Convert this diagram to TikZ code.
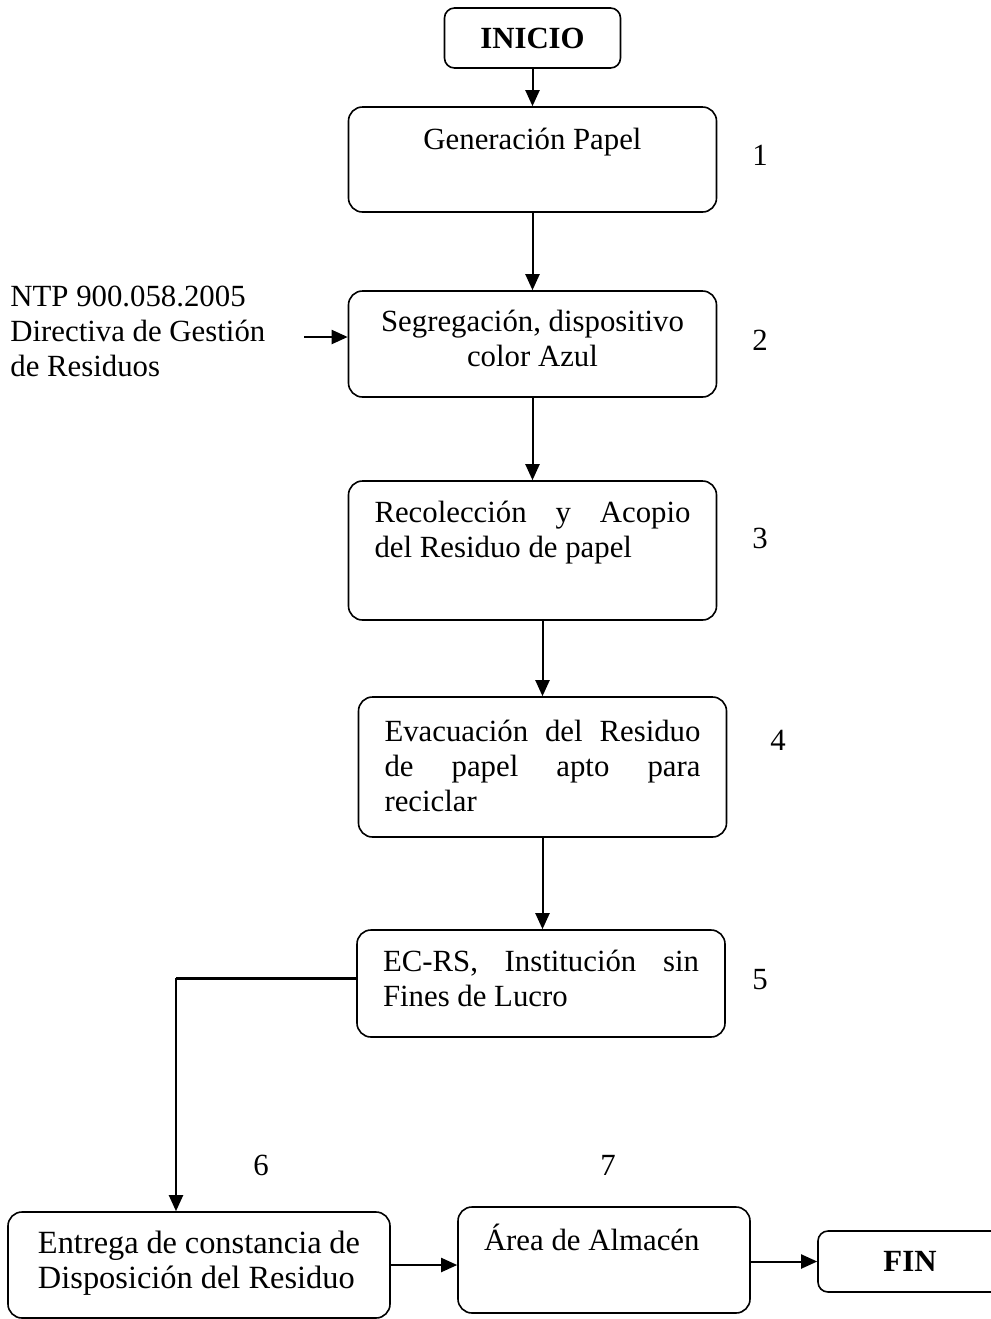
\documentclass[tikz,border=0pt]{standalone}
\usepackage{fontspec}
\setmainfont{Liberation Serif}
\usetikzlibrary{arrows.meta}

\begin{document}
\begin{tikzpicture}[x=0.5pt, y=-0.5pt,
    every node/.style={font=\fontsize{15.4pt}{17.5pt}\selectfont},
    paso/.style={draw, line width=0.8pt, rounded corners=7pt, inner xsep=13pt, inner ysep=0pt, text width=158pt},
    limite/.style={draw, line width=0.8pt, rounded corners=5pt, inner sep=0pt, font=\fontsize{15.4pt}{17.5pt}\selectfont\bfseries},
    flecha/.style={line width=1pt, -{Triangle[length=8pt, width=7pt]}},
    numero/.style={inner sep=0pt}]
    \useasboundingbox (0,0) rectangle (991,1319);
    \fill[white] (0,0) rectangle (991,1319);

    % Inicio
    \node[limite, minimum width=88pt, minimum height=30pt] (inicio) at (532.5,38) {INICIO};

    % Pasos 1 a 5
    \node[paso, align=flush center, text height=21pt, text depth=31.5pt] (gen) at (532.5,159.5) {Generación Papel};
    \node[paso, align=flush center, text height=20pt, text depth=33pt] (seg) at (532.5,344) {Segregación, dispositivo\\color Azul};
    \node[paso, align=justify, text height=20.5pt, text depth=49pt] (rec) at (532.5,550.5) {Recolección y Acopio\linebreak del Residuo de papel};
    \node[paso, align=justify, text height=22pt, text depth=48pt] (evac) at (542.5,767) {Evacuación del Residuo\linebreak de papel apto para\linebreak reciclar};
    \node[paso, align=justify, text height=20.5pt, text depth=33pt] (ec) at (541,983.5) {EC-RS, Institución sin\linebreak Fines de Lucro};

    % Pasos 6 y 7, fin
    \node[paso, align=flush left, inner xsep=15pt, text width=161pt, text height=20.5pt, text depth=32.5pt, font=\fontsize{16.2pt}{17.8pt}\selectfont] (entrega) at (199,1265) {Entrega de constancia de\\Disposición del Residuo};
    \node[paso, align=flush left, text width=120pt, text height=21.5pt, text depth=31.5pt] (area) at (604,1260) {Área de Almacén};
    \node[limite, minimum width=92pt, minimum height=30.5pt] (fin) at (910,1261.5) {FIN};

    % Norma
    \node[align=flush left, anchor=west, inner sep=0pt] (ntp) at (10,331) {NTP 900.058.2005\\Directiva de Gestión\\de Residuos};
    \coordinate (ntpfin) at (304,337);

    % Numeros
    \node[numero] (n1) at (760,155) {1};
    \node[numero] (n2) at (760,340) {2};
    \node[numero] (n3) at (760,538) {3};
    \node[numero] (n4) at (778,740) {4};
    \node[numero] (n5) at (760,980) {5};
    \node[numero] (n6) at (261,1165) {6};
    \node[numero] (n7) at (608,1165) {7};

    % Flechas
    \draw[flecha] (inicio) -- (gen);
    \draw[flecha] (gen) -- (seg);
    \draw[flecha] (seg) -- (rec);
    \draw[flecha] (evac.north |- rec.south) -- (evac.north);
    \draw[flecha] (evac.south) -- (evac.south |- ec.north);
    \draw[flecha] (ntpfin) -- (ntpfin -| seg.west);
    \coordinate (esq) at (176,978);
    \draw[line width=1.5pt] (ec.west |- esq) -- (esq);
    \draw[flecha] (esq) -- (esq |- entrega.north);
    \draw[flecha] (entrega.east) -- (entrega.east -| area.west);
    \draw[flecha] (area.east |- fin.west) -- (fin.west);
\end{tikzpicture}
\end{document}
